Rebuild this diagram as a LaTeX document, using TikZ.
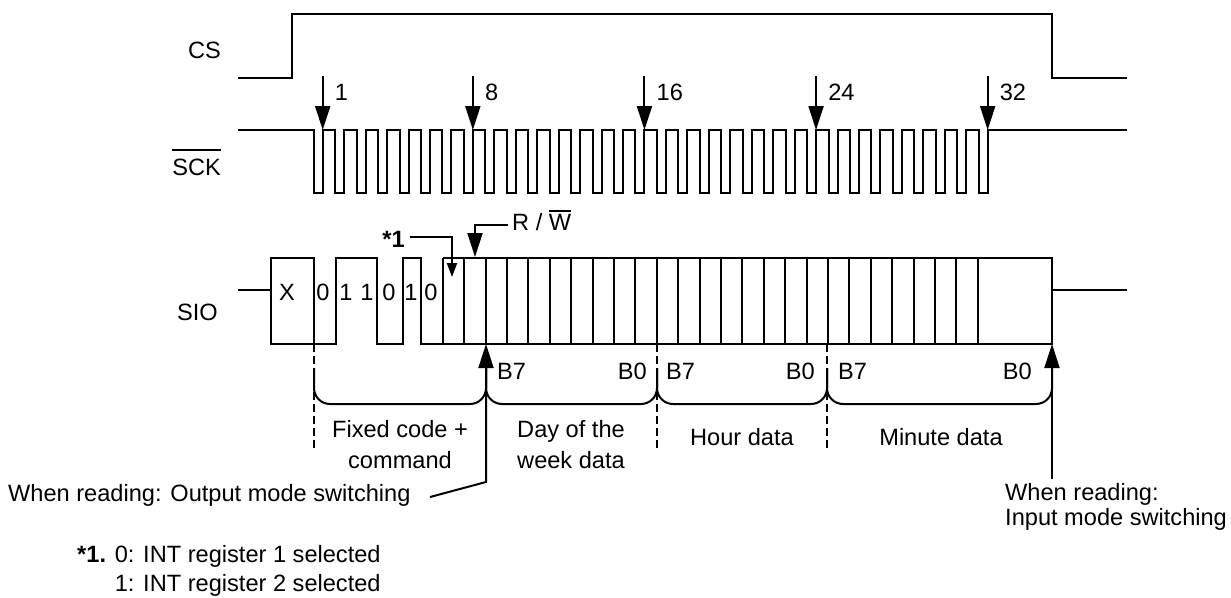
\documentclass[tikz,border=0pt]{standalone}
\usepackage{fontspec}
\setmainfont{Liberation Sans}
\usetikzlibrary{arrows.meta}
\newcommand{\barsig}[2][8pt]{\setbox0=\hbox{#2}\leavevmode\rlap{\raisebox{\dimexpr\ht0+#1\relax}{\rule{\wd0}{1.8pt}}}\box0}

\begin{document}
\begin{tikzpicture}[x = 1pt, y = -1pt, font = \fontsize{23.6}{31}\selectfont,
	every node/.style = {inner sep = 0pt},
	sig/.style = {line width = 2pt},
	cut/.style = {line width = 2pt, dash pattern = on 8pt off 4pt},
	pointer/.style = {line width = 2pt, -{Triangle[length = 24pt, width = 15pt]}},
	note/.style = {line width = 2pt, -{Triangle[length = 14pt, width = 10pt]}}]

	\useasboundingbox (0,0) rectangle (1231,597);

	% signal names
	\node (CS)  at (221,  58) [anchor = base east] {CS};
	\node (SCK) at (221, 175) [anchor = base east] {\barsig{SCK}};
	\node (SIO) at (218, 320) [anchor = base east] {SIO};

	% CS
	\draw[sig] (238,78) -- (292,78) -- (292,14) -- (1052,14) -- (1052,78) -- (1127,78);

	% SCK, 32 clocks
	\draw[sig] (238,130) foreach \k in {1,...,32} { -- ({313.7+(\k-1)*21.45},130) -- ++(0,63) -- ++(9,0) -- ++(0,-63) } -- (1127,130);
	\foreach \k in {1,8,16,24,32} {
		\pgfmathsetmacro{\cx}{322.7+(\k-1)*21.45}
		\coordinate (clk\k) at (\cx,130);
		\coordinate (clktop\k) at (\cx,76);
		\draw[pointer] (clktop\k) -- (clk\k);
		\node (num\k) at ({\cx+12},100) [anchor = base west] {\k};
	}

	% SIO
	\draw[sig] (238,290) -- (271,290);
	\draw[sig] (271,258) rectangle (314,344);
	\draw[sig] (314,344) -- (336,344) -- (336,258) -- (377,258) -- (377,344) -- (403,344) -- (403,258) -- (421,258)
		-- (421,344) -- (1052,344) -- (1052,258) -- (443,258);
	\foreach \i in {0,...,25}
		\draw[sig] ({442.7+\i*21.4},258) -- ++(0,86);
	\draw[sig] (1052,290) -- (1127,290);

	\node (X) at (287,300) [anchor = base] {X};
	\foreach \x/\b in {323/0, 346/1, 367/1, 389/0, 411/1, 431/0}
		\node (bit\x) at (\x,300) [anchor = base] {\b};

	% *1 and R/W markers
	\node (star) at (405,247) [anchor = base east] {\textbf{*1}};
	\coordinate (starfrom) at (410,237);
	\coordinate (starbend) at (452,237);
	\coordinate (startip)  at (452,277);
	\draw[note] (starfrom) -- (starbend) -- (startip);

	\node (RW) at (512,230) [anchor = base west] {R / \barsig[2pt]{W}};
	\coordinate (rwfrom) at (508,225);
	\coordinate (rwbend) at (475,225);
	\coordinate (rwtip)  at (475,257);
	\draw[pointer] (rwfrom) -- (rwbend) -- (rwtip);

	% byte boundaries and braces
	\foreach \x in {314,657,827}
		\draw[cut] (\x,344) -- (\x,448);
	\foreach \from/\to in {314/486, 486/657, 657/827, 827/1052}
		\draw[sig, rounded corners = 16pt] (\from,368) -- (\from,404) -- (\to,404) -- (\to,368);

	\foreach \x in {497,666,838}
		\node (bseven\x) at (\x,379) [anchor = base west] {B7};
	\foreach \x in {647,815,1032}
		\node (bzero\x) at (\x,379) [anchor = base east] {B0};

	% mode switching
	\coordinate (outtip)  at (486,344);
	\coordinate (outbend) at (486,482);
	\coordinate (outtail) at (430,497);
	\draw[pointer] (outtail) -- (outbend) -- (outtip);
	\coordinate (intip)  at (1052,344);
	\coordinate (intail) at (1052,479);
	\draw[pointer] (intail) -- (intip);

	\node (fixed)  at (400,420) [anchor = north, align = center] {Fixed code +\\command};
	\node (dow)    at (571,420) [anchor = north, align = center] {Day of the\\week data};
	\node (hour)   at (742,445) [anchor = base] {Hour data};
	\node (minute) at (941,445) [anchor = base] {Minute data};

	\node (rdout) at (8,501) [anchor = base west] {When reading: Output mode switching};
	\node (rdin)  at (1005,483) [anchor = north west, align = left, font = \fontsize{23.6}{25}\selectfont] {When reading:\\Input mode switching};

	\node (foot) at (77,545) [anchor = north west, align = left, font = \fontsize{23.6}{29.5}\selectfont]
		{\textbf{*1.} 0: INT register 1 selected\\\hphantom{\textbf{*1.} }1: INT register 2 selected};

\end{tikzpicture}
\end{document}
